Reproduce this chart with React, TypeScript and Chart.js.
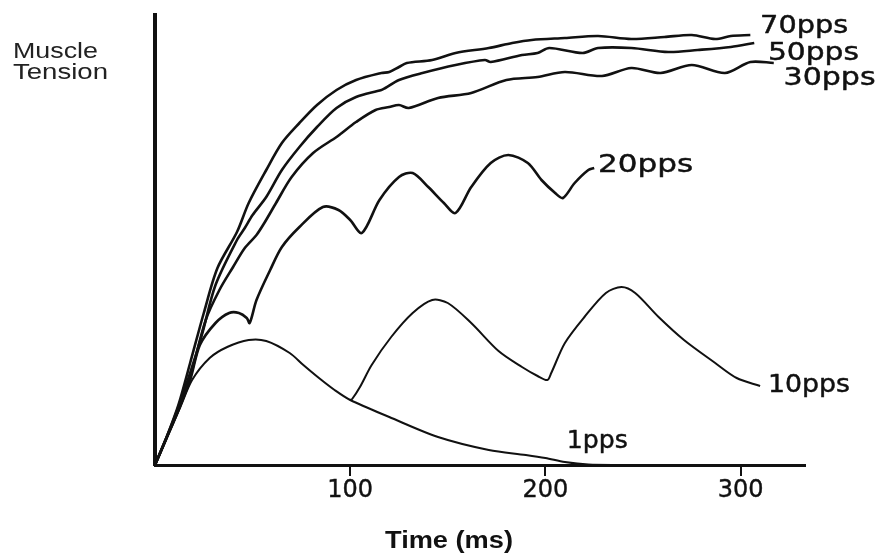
import React, { useEffect, useRef } from "react";
import { Chart, registerables } from "chart.js";

Chart.register(...registerables);

// Time (ms), tension (arbitrary units) pairs
const pps70: [number, number][] = [
  [0, 0], [6, 28], [12, 60], [18, 102], [25, 152], [32, 197], [42, 233], [48, 262],
  [57, 295], [65, 322], [74, 342], [83, 360], [93, 375], [103, 385], [116, 392],
  [120, 393], [125, 398], [129, 402], [142, 405], [154, 412], [171, 417], [183, 422],
  [193, 425], [210, 427], [227, 429], [244, 426], [261, 428], [275, 430], [287, 426],
  [295, 429], [305, 430],
];
const pps50: [number, number][] = [
  [0, 0], [6, 28], [12, 58], [18, 92], [24, 130], [31, 180], [42, 225], [46, 237],
  [50, 250], [57, 268], [65, 295], [74, 318], [83, 338], [93, 357], [103, 368],
  [116, 375], [118, 377], [125, 385], [137, 392], [154, 400], [169, 405], [172, 403],
  [188, 410], [196, 412], [202, 417], [219, 412], [227, 417], [244, 417], [263, 413],
  [278, 415], [295, 418], [307, 422],
];
const pps30: [number, number][] = [
  [0, 0], [6, 27], [12, 55], [18, 88], [26, 145], [33, 175], [40, 198], [46, 217],
  [52, 230], [56, 242], [62, 262], [70, 288], [81, 312], [93, 328], [95, 331],
  [103, 343], [113, 355], [120, 358], [125, 360], [130, 357], [145, 367], [162, 372],
  [180, 385], [196, 388], [210, 393], [229, 389], [244, 397], [259, 392], [275, 400],
  [292, 392], [305, 403], [317, 402],
];
const pps20: [number, number][] = [
  [0, 0], [6, 28], [12, 55], [18, 85], [23, 120], [31, 142], [38, 152], [43, 152],
  [47, 147], [48.5, 142], [52, 165], [59, 195], [65, 218], [74, 238], [86, 258],
  [94, 255], [100, 245], [106, 232], [115, 265], [125, 288], [132, 292], [140, 278],
  [148, 262], [154, 252], [162, 278], [172, 302], [181, 310], [191, 302], [198, 285],
  [205, 272], [209, 267], [215, 282], [222, 295], [225, 297],
];
const pps10: [number, number][] = [
  [100, 65], [101, 66], [105, 78], [111, 100], [121, 128], [132, 152], [142, 165],
  [150, 162], [162, 142], [176, 114], [188, 98], [196, 89], [201, 85], [203, 92],
  [210, 122], [220, 148], [231, 172], [239, 178], [246, 172], [258, 148], [271, 125],
  [287, 102], [298, 87], [310, 79],
];
const pps1: [number, number][] = [
  [0, 0], [6, 27], [13, 58], [19, 85], [28, 107], [37, 118], [48, 125], [57, 124],
  [69, 112], [76, 100], [84, 87], [92, 75], [100, 65], [120, 48], [145, 28],
  [171, 15], [190, 10], [200, 7], [210, 3], [222, 0.5], [240, 0],
];

const seriesNames = ["70pps", "50pps", "30pps", "20pps", "10pps", "1pps"];
const seriesData = [pps70, pps50, pps30, pps20, pps10, pps1];
const xTicks = [100, 200, 300];
const yLabelLines = ["Muscle", "Tension"];
const xTitle = "Time (ms)";

// label anchors in data space (left edge, baseline) and target widths
const labelLayout = [
  { x: 310, y: 432, w: 88 },
  { x: 314, y: 405, w: 91 },
  { x: 322, y: 380, w: 92 },
  { x: 227, y: 293, w: 95 },
  { x: 314, y: 73, w: 82 },
  { x: 211, y: 17, w: 61 },
];

function drawStretched(
  ctx: CanvasRenderingContext2D,
  text: string,
  x: number,
  y: number,
  font: string,
  width: number,
  stroke = 0
) {
  ctx.font = font;
  const w = ctx.measureText(text).width;
  ctx.save();
  ctx.translate(x, y);
  ctx.scale(width / w, 1);
  ctx.textAlign = "left";
  ctx.textBaseline = "alphabetic";
  ctx.fillText(text, 0, 0);
  if (stroke > 0) {
    ctx.lineWidth = stroke;
    ctx.strokeStyle = ctx.fillStyle as string;
    ctx.lineJoin = "round";
    ctx.strokeText(text, 0, 0);
  }
  ctx.restore();
}

const annotations = {
  id: "annotations",
  afterDraw(chart: any) {
    const ctx = chart.ctx as CanvasRenderingContext2D;
    const xs = chart.scales.x;
    const ys = chart.scales.y;
    ctx.save();
    ctx.fillStyle = "#111";
    seriesNames.forEach((name, i) => {
      const l = labelLayout[i];
      drawStretched(ctx, name, xs.getPixelForValue(l.x), ys.getPixelForValue(l.y), "24px 'DejaVu Sans'", l.w, 0.45);
    });
    ctx.fillStyle = "#222";
    drawStretched(ctx, yLabelLines[0], 13, 58, "22px 'Liberation Sans'", 85);
    drawStretched(ctx, yLabelLines[1], 13, 79, "22px 'Liberation Sans'", 95);
    ctx.fillStyle = "#111";
    drawStretched(ctx, xTitle, 385, 548, "bold 23px 'Liberation Sans'", 128);
    ctx.restore();
  },
};

export default function App() {
  const ref = useRef<HTMLCanvasElement | null>(null);
  useEffect(() => {
    if (!ref.current) return;
    const chart = new Chart(ref.current, {
      type: "line",
      data: {
        datasets: seriesData.map((d, i) => ({
          label: seriesNames[i],
          data: d.map(([x, y]) => ({ x, y })),
          borderColor: "#111",
          borderWidth: i >= 4 ? 2 : 2.6,
          pointRadius: 0,
          fill: false,
          tension: 0.3,
        })),
      },
      options: {
        animation: false,
        responsive: true,
        maintainAspectRatio: false,
        layout: { padding: { left: 155, right: 74, top: 15, bottom: 0 } },
        plugins: { legend: { display: false }, tooltip: { enabled: false } },
        scales: {
          x: {
            type: "linear",
            min: 0,
            max: 333,
            afterBuildTicks: (s: any) => {
              s.ticks = xTicks.map((v) => ({ value: v }));
            },
            afterFit: (s: any) => {
              s.height = 89;
            },
            grid: { display: true, drawOnChartArea: false, drawTicks: true, tickLength: 11, color: "#111", lineWidth: 2 },
            border: { display: true, color: "#111", width: 3 },
            ticks: {
              font: { family: "DejaVu Sans", size: 24 },
              color: "#111",
              padding: 0,
              maxRotation: 0,
              autoSkip: false,
              textStrokeColor: "#111",
              textStrokeWidth: 0.4,
            },
          },
          y: {
            type: "linear",
            min: 0,
            max: 450,
            grid: { display: false, drawTicks: false },
            ticks: { display: false },
            border: { display: true, color: "#111", width: 4 },
          },
        },
      },
      plugins: [annotations],
    });
    return () => chart.destroy();
  }, []);
  return (
    <div style={{ position: "absolute", left: 0, top: 0, width: 879, height: 554, background: "#fff" }}>
      <canvas ref={ref} />
    </div>
  );
}
